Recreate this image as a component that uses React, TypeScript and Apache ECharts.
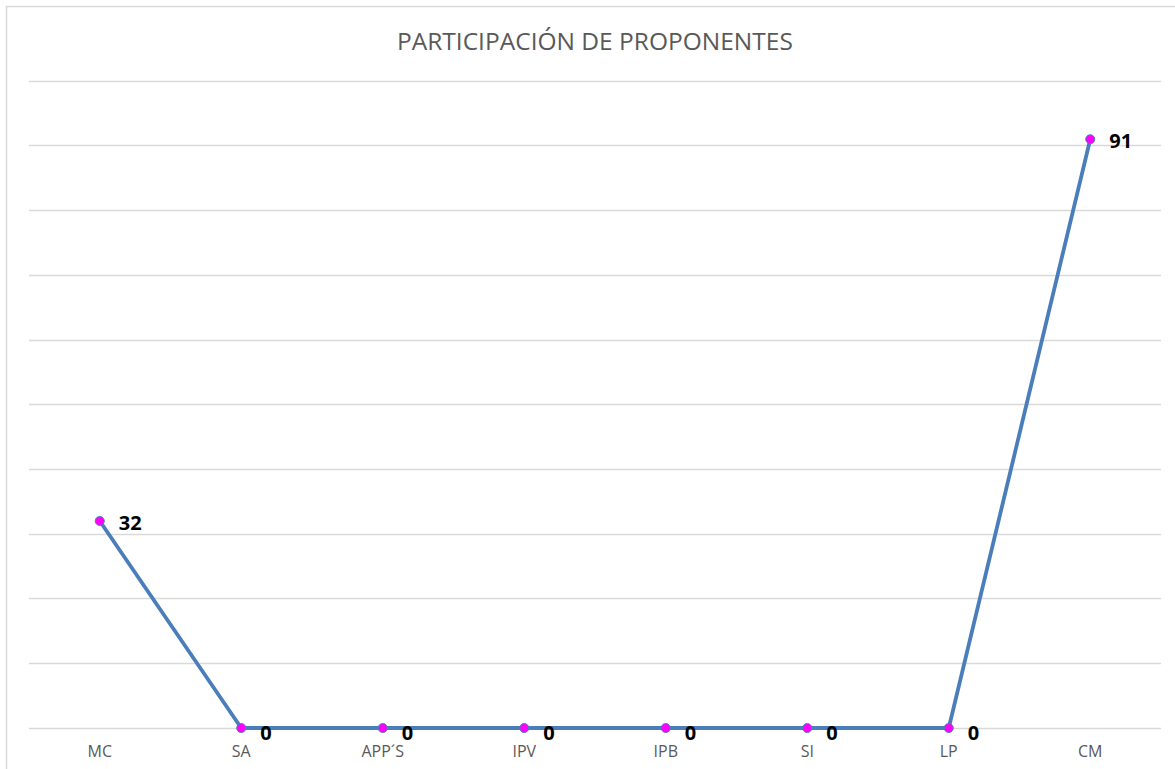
import React, { useEffect, useRef } from "react";
import * as echarts from "echarts";

const categories = ["MC", "SA", "APP´S", "IPV", "IPB", "SI", "LP", "CM"];
const values = [32, 0, 0, 0, 0, 0, 0, 91];
const titleText = "PARTICIPACIÓN DE PROPONENTES";

export default function App() {
  const ref = useRef<HTMLDivElement>(null);
  useEffect(() => {
    if (!ref.current) return;
    const chart = echarts.init(ref.current, undefined, { renderer: "svg" });
    chart.setOption({
      animation: false,
      backgroundColor: "#ffffff",
      title: {
        text: titleText,
        left: 392,
        top: 23,
        textStyle: {
          fontFamily: "Open Sans, sans-serif",
          fontSize: 24.5,
          fontWeight: "normal",
          color: "#595959",
        },
      },
      graphic: [
        {
          type: "rect",
          shape: { x: 6.5, y: 6.5, width: 1200, height: 800 },
          style: { fill: "none", stroke: "#d9d9d9", lineWidth: 1.5 },
          silent: true,
        },
      ],
      grid: { left: 29, right: 14, top: 81, bottom: 41, containLabel: false },
      xAxis: {
        type: "category",
        data: categories,
        boundaryGap: true,
        axisLine: { show: false },
        axisTick: { show: false },
        axisLabel: {
          color: "#595959",
          fontSize: 16,
          fontFamily: "Open Sans, sans-serif",
          margin: 15,
        },
      },
      yAxis: {
        type: "value",
        min: 0,
        max: 100,
        interval: 10,
        axisLabel: { show: false },
        axisLine: { show: false },
        axisTick: { show: false },
        splitLine: { lineStyle: { color: "#d9d9d9", width: 1.3 } },
      },
      series: [
        {
          type: "line",
          data: values.map((v) => ({
            value: v,
            label: { offset: [0, v === 0 ? 4 : 1.5] },
          })),
          lineStyle: { color: "#4a7ebb", width: 3.8 },
          symbol: "circle",
          symbolSize: 9,
          itemStyle: { color: "#ff00ff", borderColor: "#4a7ebb", borderWidth: 1 },
          label: {
            show: true,
            position: "right",
            distance: 14,
            color: "#000000",
            fontSize: 20,
            fontWeight: "bold",
            fontFamily: "Open Sans, sans-serif",
          },
        },
      ],
    });
    return () => chart.dispose();
  }, []);
  return (
    <div
      ref={ref}
      style={{ position: "absolute", left: 0, top: 0, width: 1175, height: 769 }}
    />
  );
}
